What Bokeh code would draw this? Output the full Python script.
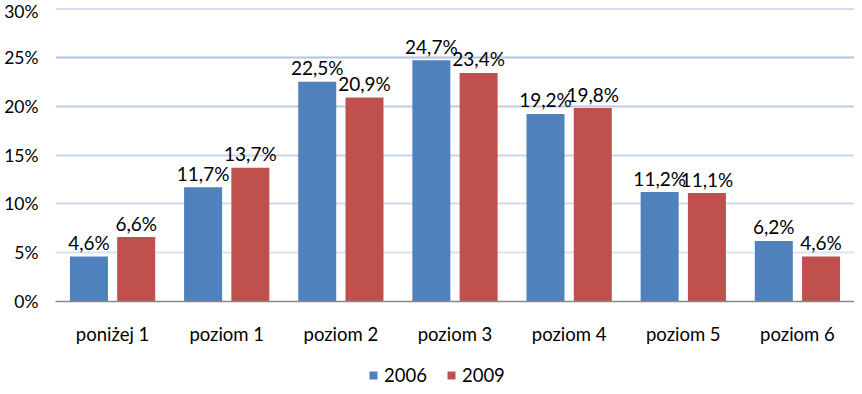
from bokeh.plotting import figure
from bokeh.layouts import column
from bokeh.models import (FactorRange, Range1d, PrintfTickFormatter, Legend, LegendItem,
                          ColumnDataSource, FixedTicker)
from bokeh.transform import dodge
from bokeh.core.properties import value
from bokeh.embed import file_html
from bokeh.resources import INLINE

categories = ["poniżej 1", "poziom 1", "poziom 2", "poziom 3", "poziom 4", "poziom 5", "poziom 6"]
series_names = ["2006", "2009"]
v2006 = [4.6, 11.7, 22.5, 24.7, 19.2, 11.2, 6.2]
v2009 = [6.6, 13.7, 20.9, 23.4, 19.8, 11.1, 4.6]
y_ticks = [0, 5, 10, 15, 20, 25, 30]
grid_colors = ["#DAE4F2", "#D0DCEF", "#C6D5EB", "#B8CBE7", "#AFC4E3", "#A8BEE1"]
bar_colors = ["#4F81BD", "#C0504D"]

FONT = "Lato"
FS = "18.5px"

def fmt(v):
    return f"{v:.1f}%".replace(".", ",")

src = ColumnDataSource(dict(
    cat=categories,
    v2006=v2006,
    v2009=v2009,
    l2006=[fmt(v) for v in v2006],
    l2009=[fmt(v) for v in v2009],
))
grid_src = ColumnDataSource(dict(y=y_ticks[1:], color=grid_colors))

p = figure(x_range=FactorRange(factors=categories), y_range=Range1d(0, 30),
           width=854, height=348, output_backend="svg", toolbar_location=None,
           min_border_left=55, min_border_right=0, min_border_top=8, min_border_bottom=47)
p.outline_line_color = None
p.background_fill_color = "white"
p.border_fill_color = "white"
p.xgrid.visible = False
p.ygrid.visible = False

# gridlines with gradient colours
p.hspan(y="y", line_color="color", line_width=2, source=grid_src)

off = 0.207
bw = 0.333
r1 = p.vbar(x=dodge("cat", -off, range=p.x_range), top="v2006", width=bw, source=src,
            fill_color=bar_colors[0], line_color=None)
r2 = p.vbar(x=dodge("cat", off, range=p.x_range), top="v2009", width=bw, source=src,
            fill_color=bar_colors[1], line_color=None)

p.text(x=dodge("cat", -off, range=p.x_range), y="v2006", text="l2006", source=src,
       text_align="center", text_baseline="alphabetic", y_offset=-14,
       text_font=value(FONT), text_font_size="19px", text_color="#000000")
p.text(x=dodge("cat", off, range=p.x_range), y="v2009", text="l2009", source=src,
       text_align="center", text_baseline="alphabetic", y_offset=-14,
       text_font=value(FONT), text_font_size="19px", text_color="#000000")

# axes
p.yaxis.ticker = FixedTicker(ticks=y_ticks)
p.yaxis.formatter = PrintfTickFormatter(format="%d%%")
p.yaxis.axis_line_color = None
p.yaxis.major_tick_line_color = None
p.yaxis.minor_tick_line_color = None
p.yaxis.major_tick_out = 0
p.yaxis.major_tick_in = 0
p.yaxis.minor_tick_out = 0
p.yaxis.major_label_standoff = 17
p.yaxis.major_label_text_font = FONT
p.yaxis.major_label_text_font_size = "17.5px"
p.yaxis.major_label_text_color = "#000000"

p.xaxis.axis_line_color = "#888888"
p.xaxis.axis_line_width = 1.5
p.xaxis.major_tick_line_color = None
p.xaxis.minor_tick_line_color = None
p.xaxis.major_tick_out = 0
p.xaxis.major_tick_in = 0
p.xaxis.minor_tick_out = 0
p.xaxis.major_label_standoff = 21
p.xaxis.major_label_text_font = FONT
p.xaxis.major_label_text_font_size = FS
p.xaxis.major_label_text_color = "#000000"

# legend strip (separate small figure using the same series styles)
lp = figure(width=854, height=38, output_backend="svg", toolbar_location=None,
            x_range=Range1d(0, 1), y_range=Range1d(0, 1),
            x_axis_location=None, y_axis_location=None,
            min_border_left=0, min_border_right=0, min_border_top=0, min_border_bottom=0)
lp.outline_line_color = None
lp.xgrid.visible = False
lp.ygrid.visible = False
offscreen = ColumnDataSource(dict(x=[5], top=[5]))
lr1 = lp.vbar(x="x", top="top", width=0.1, source=offscreen, fill_color=bar_colors[0], line_color=None)
lr2 = lp.vbar(x="x", top="top", width=0.1, source=offscreen, fill_color=bar_colors[1], line_color=None)

legend = Legend(items=[LegendItem(label=series_names[0], renderers=[lr1]),
                       LegendItem(label=series_names[1], renderers=[lr2])],
                orientation="horizontal", location=(313, 0),
                glyph_width=10, glyph_height=10, label_standoff=6, spacing=19,
                label_text_font=FONT, label_text_font_size=FS, label_text_color="#000000",
                border_line_color=None, background_fill_alpha=0,
                padding=0, margin=0)
lp.add_layout(legend, "center")

open("out.html", "w").write(file_html(column(p, lp), INLINE))
